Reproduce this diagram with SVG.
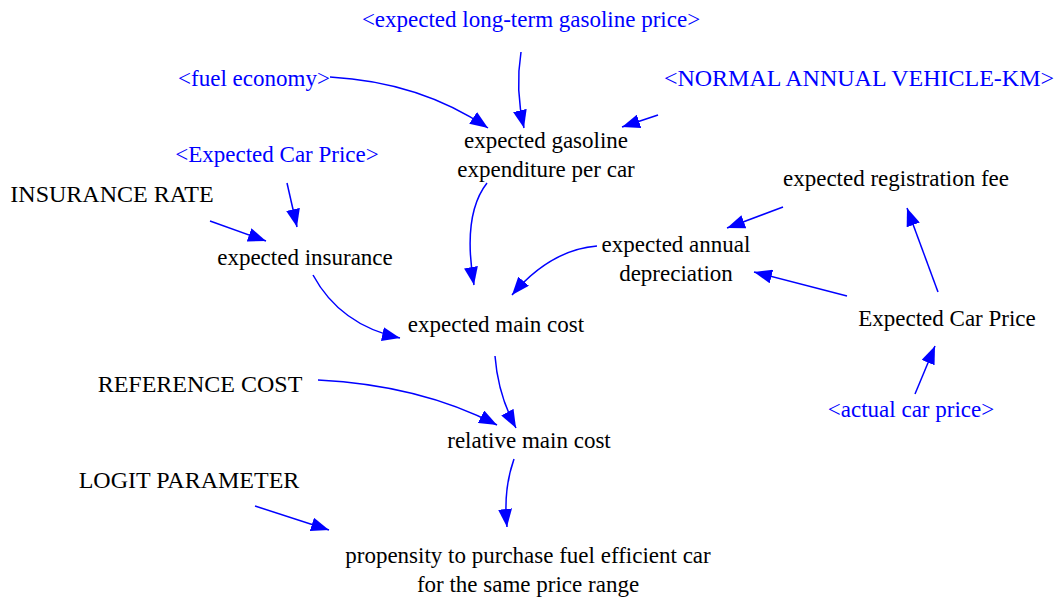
<svg xmlns="http://www.w3.org/2000/svg" width="1057" height="599" viewBox="0 0 1057 599">
<style>
text{font-family:"Liberation Serif","Times New Roman",serif;font-size:23px;fill:#000;text-anchor:middle}
.cap{font-size:24px}
.sh{fill:#0000FF}
.c path{fill:none;stroke:#0000FF;stroke-width:1.5;marker-end:url(#ah)}
</style>
<defs>
<marker id="ah" markerUnits="userSpaceOnUse" markerWidth="20" markerHeight="14" refX="18" refY="7" orient="auto">
<path d="M0,0 L18,7 L0,14 z" fill="#0000FF"/>
</marker>
</defs>
<rect width="1057" height="599" fill="#fff"/>
<g class="c" id="connectors">
<path d="M521,52 Q515,90 524,128"/>
<path d="M330,77 Q420,82 488,128"/>
<path d="M658,115 L622,127"/>
<path d="M487,183 Q462,215 474,285"/>
<path d="M287,183 L297,227"/>
<path d="M210,221 L266,241"/>
<path d="M313,275 Q340,325 400,338"/>
<path d="M783,207 L727,228"/>
<path d="M597,246 Q550,250 512,295"/>
<path d="M847,296 L754,272"/>
<path d="M938,292 L907,208"/>
<path d="M915,394 L935,346"/>
<path d="M495,356 Q498,395 516,428"/>
<path d="M318,380 Q420,385 497,425"/>
<path d="M514,459 Q503,490 507,527"/>
<path d="M255,506 L329,530"/>
</g>
<g id="n_ltgp"><text class="sh" x="531" y="27">&lt;expected long-term gasoline price&gt;</text></g>
<g id="n_fe"><text class="sh" x="254" y="86">&lt;fuel economy&gt;</text></g>
<g id="n_navk"><text class="sh cap" x="859" y="86">&lt;NORMAL ANNUAL VEHICLE-KM&gt;</text></g>
<g id="n_egepc"><text x="546" y="148">expected gasoline</text><text x="546" y="177">expenditure per car</text></g>
<g id="n_ecp_sh"><text class="sh" x="277" y="162">&lt;Expected Car Price&gt;</text></g>
<g id="n_ir"><text class="cap" x="112" y="202">INSURANCE RATE</text></g>
<g id="n_erf"><text x="896" y="186">expected registration fee</text></g>
<g id="n_ead"><text x="676" y="252">expected annual</text><text x="676" y="281">depreciation</text></g>
<g id="n_ei"><text x="305" y="265">expected insurance</text></g>
<g id="n_emc"><text x="496" y="332">expected main cost</text></g>
<g id="n_ecp"><text x="947" y="326">Expected Car Price</text></g>
<g id="n_rc"><text class="cap" x="200" y="392">REFERENCE COST</text></g>
<g id="n_acp"><text class="sh" x="911" y="417">&lt;actual car price&gt;</text></g>
<g id="n_rmc"><text x="529" y="448">relative main cost</text></g>
<g id="n_lp"><text class="cap" x="189" y="488">LOGIT PARAMETER</text></g>
<g id="n_prop"><text x="528" y="563">propensity to purchase fuel efficient car</text><text x="528" y="592">for the same price range</text></g>
</svg>
